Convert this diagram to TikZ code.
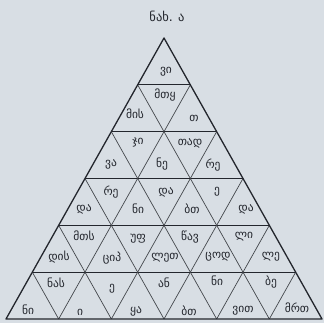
\documentclass[tikz,border=0pt]{standalone}
\usepackage{fontspec}
\newfontfamily\geofont{DejaVu Sans}
\usepackage{tikz}
\usetikzlibrary{calc}
\definecolor{paper}{RGB}{216,222,228}
\definecolor{ink}{RGB}{35,38,45}
\tikzset{
  edge/.style={draw=ink, line width=1.3pt, line join=round},
  rowline/.style={draw=ink, line width=1.1pt},
  diag/.style={draw=ink!85, line width=0.7pt},
  syl/.style={font=\geofont\fontsize{11.5}{12}\selectfont, text=ink, inner sep=0pt},
}

\begin{document}
\begin{tikzpicture}[x=1pt,y=1pt]
  \fill[paper] (0,0) rectangle (324,323);
  \useasboundingbox (0,0) rectangle (324,323);
  \coordinate (A) at (164,285);
  \coordinate (L) at (6,4);
  \coordinate (R) at (322,4);
  % small triangles: two slopes and the row lines
  \foreach \k in {1,...,5} {
    \draw[diag] ($(L)!\k/6!(R)$) -- ($(L)!\k/6!(A)$);
    \draw[diag] ($(L)!\k/6!(R)$) -- ($(R)!{(6-\k)/6}!(A)$);
    \draw[rowline] ($(L)!\k/6!(A)$) -- ($(R)!\k/6!(A)$);
  }
  \draw[edge] (A) -- (L) -- (R) -- cycle;
  \node[syl, font=\geofont\fontsize{12.5}{13}\selectfont] (title) at (167,307) {ნახ. ა};
  % syllables, row by row
  \foreach \nm/\x/\y/\txt in {
      s11/166/251/ვი,
      s21/135/209/მის, s22/165/228/მთყ, s23/194/205/თ,
      s31/111/159/ვა, s32/138/180/ჯი, s33/162/159/ნე, s34/190/180/თად, s35/213/158/რე,
      s41/84/114/და, s42/111/131/რე, s43/138/114/ნი, s44/166/131/და,
      s45/192/114/ბთ, s46/217/131/ე, s47/246/114/და,
      s51/59/66/დის, s52/84/87/მთს, s53/112/65/ციპ, s54/138/84/უფ, s55/165/65/ლეთ,
      s56/190/86/წავ, s57/218/66/ცოდ, s58/244/86/ლი, s59/271/66/ლე,
      s61/28/13/ნი, s62/56/40/ნას, s63/80/11/ი, s64/112/34/ე, s65/136/12/ყა, s66/164/40/ან,
      s67/189/12/ბთ, s68/217/42/ნი, s69/243/12/ვით, s610/271/41/ბე, s611/297/15/მრთ}{
    \node[syl] (\nm) at (\x,\y) {\txt};
  }
\end{tikzpicture}
\end{document}
